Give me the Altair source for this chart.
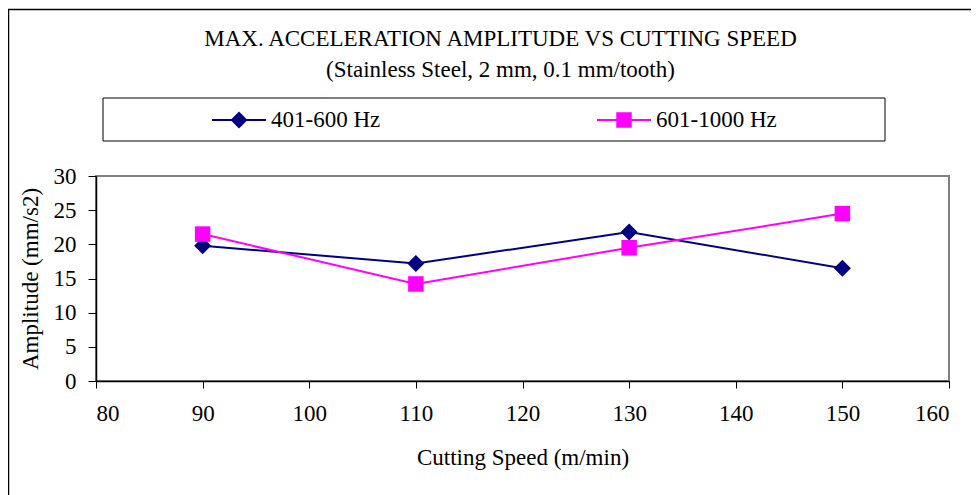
import altair as alt
import pandas as pd

speed = [90, 110, 130, 150]
amp_401_600 = [19.8, 17.2, 21.8, 16.5]
amp_601_1000 = [21.5, 14.2, 19.5, 24.5]
series_names = ["401-600 Hz", "601-1000 Hz"]
series_colors = ["#000080", "#FF00FF"]
series_shapes = ["diamond", "square"]
x_ticks = [80, 90, 100, 110, 120, 130, 140, 150, 160]
y_ticks = [0, 5, 10, 15, 20, 25, 30]
title_text = "MAX. ACCELERATION AMPLITUDE VS CUTTING SPEED"
subtitle_text = "(Stainless Steel, 2 mm, 0.1 mm/tooth)"
x_title = "Cutting Speed (m/min)"
y_title = "Amplitude (mm/s2)"

df = pd.DataFrame({
    "speed": speed * 2,
    "amp": amp_401_600 + amp_601_1000,
    "series": [series_names[0]] * len(speed) + [series_names[1]] * len(speed),
})

FONT = "Liberation Serif"
FS = 23
W, H = 853, 205

# layout (pixels relative to the plot area's top-left corner)
LEG_X = [116, 501]      # left end of each legend symbol line
LEG_LINE = 54
LEG_Y = -56
MARKER_SIZES = [290, 240]

color = alt.Color("series:N", scale=alt.Scale(domain=series_names, range=series_colors), legend=None)
x = alt.X("speed:Q", scale=alt.Scale(domain=[80, 160], nice=False),
          axis=alt.Axis(values=x_ticks, title=x_title, grid=False, tickSize=7,
                        labelPadding=14, titlePadding=21))
y = alt.Y("amp:Q", scale=alt.Scale(domain=[0, 30], nice=False),
          axis=alt.Axis(values=y_ticks, title=y_title, grid=False, tickSize=8,
                        labelPadding=12, titlePadding=11))

base = alt.Chart(df).encode(x=x, y=y, color=color)
lines = base.mark_line(strokeWidth=2)
points = base.mark_point(filled=True, opacity=1).encode(
    shape=alt.Shape("series:N", scale=alt.Scale(domain=series_names, range=series_shapes), legend=None),
    size=alt.Size("series:N", scale=alt.Scale(domain=series_names, range=MARKER_SIZES), legend=None),
)

one = pd.DataFrame({"t": [title_text], "s": [subtitle_text]})
title_mark = alt.Chart(one).mark_text(font=FONT, fontSize=FS, color="black", align="center",
                                      baseline="alphabetic").encode(
    x=alt.value(404.5), y=alt.value(-130), text="t:N")
subtitle_mark = alt.Chart(one).mark_text(font=FONT, fontSize=FS, color="black", align="center",
                                         baseline="alphabetic").encode(
    x=alt.value(404.5), y=alt.value(-99), text="s:N")
legend_box = alt.Chart(one).mark_rect(fill="transparent", stroke="black", strokeWidth=1).encode(
    x=alt.value(7), x2=alt.value(789), y=alt.value(-78), y2=alt.value(-35))
outer_box = alt.Chart(one).mark_rect(fill="transparent", stroke="black", strokeWidth=1.5).encode(
    x=alt.value(-87.5), x2=alt.value(1200), y=alt.value(-166.5), y2=alt.value(1200))

legend_layers = []
for i, name in enumerate(series_names):
    ldf = pd.DataFrame({"name": [name]})
    lx = LEG_X[i]
    legend_layers.append(alt.Chart(ldf).mark_rule(color=series_colors[i], strokeWidth=2).encode(
        x=alt.value(lx), x2=alt.value(lx + LEG_LINE), y=alt.value(LEG_Y)))
    legend_layers.append(alt.Chart(ldf).mark_point(shape=series_shapes[i], filled=True, opacity=1,
                                                   color=series_colors[i], size=MARKER_SIZES[i]).encode(
        x=alt.value(lx + LEG_LINE / 2), y=alt.value(LEG_Y)))
    legend_layers.append(alt.Chart(ldf).mark_text(font=FONT, fontSize=FS, color="black", align="left",
                                                  baseline="middle").encode(
        x=alt.value(lx + LEG_LINE + 5), y=alt.value(LEG_Y), text="name:N"))

chart = alt.layer(outer_box, legend_box, title_mark, subtitle_mark, *legend_layers, lines, points).properties(
    width=W, height=H,
    autosize=alt.AutoSizeParams(type="none"),
    padding={"left": 88, "top": 168, "right": 22, "bottom": 114},
).configure_view(stroke="#808080", strokeWidth=2).configure_axis(
    labelFont=FONT, labelFontSize=FS, labelColor="black",
    titleFont=FONT, titleFontSize=FS, titleColor="black", titleFontWeight="normal",
    domainColor="black", domainWidth=1.5, tickColor="black", tickWidth=1,
)

chart.save("out.html", embed_options={"renderer": "svg", "actions": False})
